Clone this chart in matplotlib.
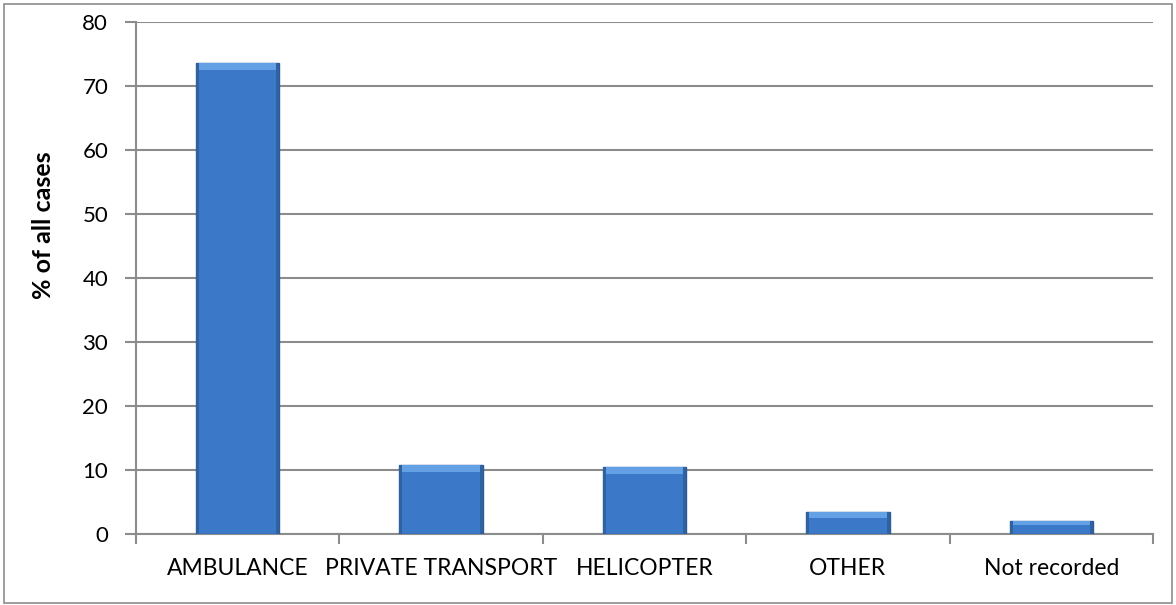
import numpy as np
import matplotlib.pyplot as plt
from matplotlib.patches import Rectangle

categories = ["AMBULANCE", "PRIVATE TRANSPORT", "HELICOPTER", "OTHER", "Not recorded"]
values = [73.6, 10.8, 10.4, 3.5, 2.0]
yticks = [0, 10, 20, 30, 40, 50, 60, 70, 80]

plt.rcParams['font.family'] = ['Lato', 'DejaVu Sans']

fig = plt.figure(figsize=(11.76, 6.05), dpi=100)
ax = fig.add_axes([0.1156, 0.1174, 0.8649, 0.8462])

x = np.arange(len(categories))
width = 0.41

# main bars with darker outline
bars = ax.bar(x, values, width=width, color="#3b79c8", edgecolor="#2b5c99",
              linewidth=1.0, zorder=3)
# bevel: lighter top band, darker sides
for xi, v in zip(x, values):
    band = min(1.1, v * 0.3)
    ax.add_patch(Rectangle((xi - width / 2 + 0.015, v - band), width - 0.03, band,
                           facecolor="#64a0e4", edgecolor="none", zorder=4))
    ax.add_patch(Rectangle((xi - width / 2, 0), 0.015, v,
                           facecolor="#30629f", edgecolor="none", zorder=4))
    ax.add_patch(Rectangle((xi + width / 2 - 0.015, 0), 0.015, v,
                           facecolor="#30629f", edgecolor="none", zorder=4))

ax.set_xlim(-0.5, len(categories) - 0.5)
ax.set_ylim(0, 80)
ax.set_yticks(yticks)
ax.set_xticks(x)
ax.set_xticklabels(categories, fontsize=16.5)
ax.set_xticks(np.arange(-0.5, len(categories), 1.0), minor=True)
ax.tick_params(axis='x', which='major', length=0, pad=17)
ax.tick_params(axis='x', which='minor', length=7, color="#8c8c8c", width=1.5)
ax.tick_params(axis='y', labelsize=16, length=8, color="#8c8c8c", width=1.5, pad=12)

ax.yaxis.grid(True, color="#8c8c8c", linewidth=1.5, zorder=0)
ax.set_axisbelow(True)
for s in ["top", "right"]:
    ax.spines[s].set_visible(False)
for s in ["left", "bottom"]:
    ax.spines[s].set_color("#8c8c8c")
    ax.spines[s].set_linewidth(1.5)

ax.set_ylabel("% of all cases", fontsize=18, fontweight="bold")
ax.yaxis.set_label_coords(-0.08, 0.6035)

fig.patches.append(Rectangle((0.003, 0.004), 0.994, 0.99, transform=fig.transFigure,
                             fill=False, edgecolor="#8c8c8c", linewidth=1.2))

fig.savefig("out.png", dpi=100)
